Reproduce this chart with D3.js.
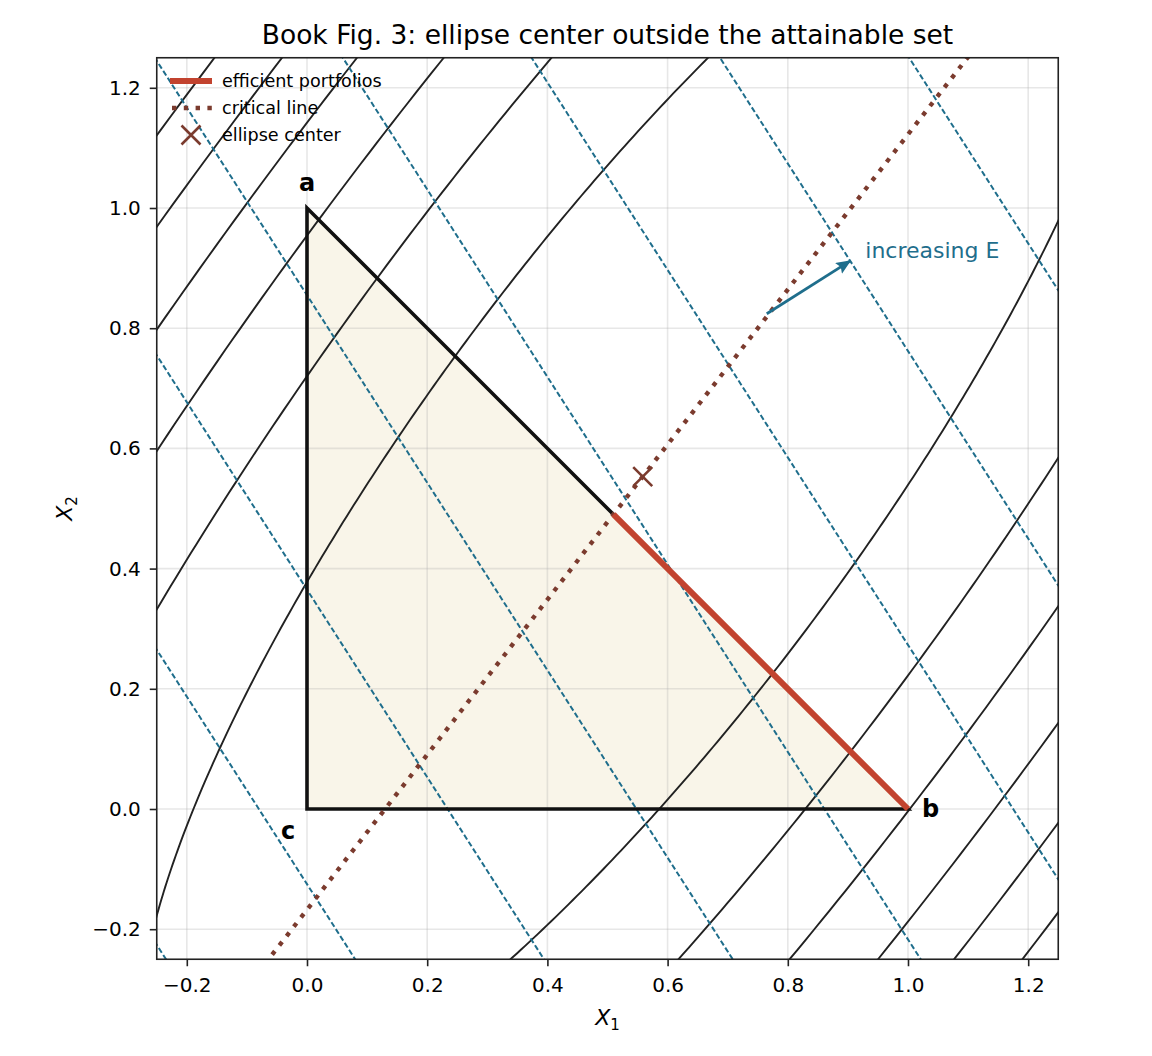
<!DOCTYPE html>
<html>
<head>
<meta charset="utf-8">
<title>Book Fig. 3</title>
<style>
	body {
		margin: 0;
		background: #fff;
	}
	svg {
		display: block;
		font-family: "DejaVu Sans", sans-serif;
	}
	.axis text {
		font-family: "DejaVu Sans", sans-serif;
		font-size: 20px;
		fill: #000;
	}
	.axis path, .axis line {
		stroke: #222;
		stroke-width: 1.6px;
	}
</style>
</head>
<body>
<div id="chart"></div>
<script src="https://cdn.jsdelivr.net/npm/d3@7"></script>
<script>

// corners of the attainable set in (X1, X2)
var vertices = [
	{ name: "a", x: 0, y: 1 },
	{ name: "b", x: 1, y: 0 },
	{ name: "c", x: 0, y: 0 }
];
var ellipseCenter = [0.5586, 0.553];

// iso-variance ellipses: q11*u1^2 + 2*q12*u1*u2 + q22*u2^2 = level, u = X - center
var quadForm = [[4.93, -3.21], [-3.21, 2.94]];
var varianceLevels = [1.0, 2.22, 3.45, 4.67, 5.89, 7.12];

// iso-mean lines: X2 = level - meanSlope * X1
var meanSlope = 1.56;
var meanLevels = [-0.616, -0.125, 0.365, 0.855, 1.343, 1.833, 2.322, 2.813];

// critical line through the ellipse center
var criticalSlope = 1.29;

var arrowFrom = [0.765, 0.824];
var arrowTo = [0.904, 0.912];

var tickValues = [-0.2, 0.0, 0.2, 0.4, 0.6, 0.8, 1.0, 1.2];

var legendItems = ["efficient portfolios", "critical line", "ellipse center"];

var teal = "#1f6e8c";
var brown = "#7b3b2e";
var red = "#c2432f";

var width = 1152;
var height = 1056;

var x = d3.scaleLinear().domain([-0.25, 1.25]).range([156.75, 1058.25]);
var y = d3.scaleLinear().domain([-0.25, 1.25]).range([959.25, 57.75]);

var svg = d3.select("#chart").append("svg")
	.attr("width", width)
	.attr("height", height);

svg.append("rect")
	.attr("width", width)
	.attr("height", height)
	.attr("fill", "#fff");

svg.append("defs").append("clipPath")
	.attr("id", "plot-clip")
	.append("rect")
		.attr("x", x(-0.25))
		.attr("y", y(1.25))
		.attr("width", x(1.25) - x(-0.25))
		.attr("height", y(-0.25) - y(1.25));

svg.select("defs").append("marker")
	.attr("id", "arrow-head")
	.attr("viewBox", "0 0 14 12")
	.attr("refX", 13)
	.attr("refY", 6)
	.attr("markerUnits", "userSpaceOnUse")
	.attr("markerWidth", 15)
	.attr("markerHeight", 13)
	.attr("orient", "auto")
	.append("path")
		.attr("d", "M0,0 L14,6 L0,12 L2.5,6 Z")
		.attr("fill", teal);

var plot = svg.append("g").attr("clip-path", "url(#plot-clip)");

var line = d3.line()
	.x(function(d) { return x(d[0]); })
	.y(function(d) { return y(d[1]); });

// attainable set fill
plot.append("path")
	.attr("d", line([[0, 0], [0, 1], [1, 0]]) + "Z")
	.attr("fill", "#f9f5e9");

// grid
plot.append("g")
	.selectAll("line")
	.data(tickValues)
	.join("line")
		.attr("x1", function(d) { return x(d); })
		.attr("x2", function(d) { return x(d); })
		.attr("y1", y(-0.25))
		.attr("y2", y(1.25))
		.attr("stroke", "#b0b0b0")
		.attr("stroke-opacity", 0.3)
		.attr("stroke-width", 1.6);
plot.append("g")
	.selectAll("line")
	.data(tickValues)
	.join("line")
		.attr("y1", function(d) { return y(d); })
		.attr("y2", function(d) { return y(d); })
		.attr("x1", x(-0.25))
		.attr("x2", x(1.25))
		.attr("stroke", "#b0b0b0")
		.attr("stroke-opacity", 0.3)
		.attr("stroke-width", 1.6);

// points of one iso-variance ellipse (Cholesky of the quadratic form)
function ellipsePoints(level) {
	var r11 = Math.sqrt(quadForm[0][0]);
	var r12 = quadForm[0][1] / r11;
	var r22 = Math.sqrt(quadForm[1][1] - r12 * r12);
	var s = Math.sqrt(level);
	return d3.range(0, 721).map(function(i) {
		var t = i / 720 * 2 * Math.PI;
		var u2 = s * Math.sin(t) / r22;
		var u1 = (s * Math.cos(t) - r12 * u2) / r11;
		return [ellipseCenter[0] + u1, ellipseCenter[1] + u2];
	});
}

plot.append("g")
	.selectAll("path")
	.data(varianceLevels)
	.join("path")
		.attr("d", function(d) { return line(ellipsePoints(d)); })
		.attr("fill", "none")
		.attr("stroke", "#222")
		.attr("stroke-width", 1.9);

// iso-mean lines
plot.append("g")
	.selectAll("path")
	.data(meanLevels)
	.join("path")
		.attr("d", function(d) { return line([[-0.6, d + 0.6 * meanSlope], [1.6, d - 1.6 * meanSlope]]); })
		.attr("fill", "none")
		.attr("stroke", teal)
		.attr("stroke-width", 2)
		.attr("stroke-dasharray", "5.5 2.7");

// triangle edges
plot.append("path")
	.attr("d", line([[0, 1], [0, 0], [1, 0]]) + "Z")
	.attr("fill", "none")
	.attr("stroke", "#111")
	.attr("stroke-width", 3.6)
	.attr("stroke-linejoin", "miter");

// critical line
function criticalY(xv) {
	return ellipseCenter[1] + criticalSlope * (xv - ellipseCenter[0]);
}
plot.append("path")
	.attr("d", line([[-0.058, criticalY(-0.058)], [1.3, criticalY(1.3)]]))
	.attr("fill", "none")
	.attr("stroke", brown)
	.attr("stroke-width", 4.4)
	.attr("stroke-dasharray", "4.4 7.4");

// efficient segment: critical line meets a-b, then along a-b to b
var effX = (1 - ellipseCenter[1] + criticalSlope * ellipseCenter[0]) / (1 + criticalSlope);
plot.append("path")
	.attr("d", line([[effX, 1 - effX], [1, 0]]))
	.attr("fill", "none")
	.attr("stroke", red)
	.attr("stroke-width", 6);

// ellipse center marker
function xMarker(g, cx, cy, r) {
	g.append("path")
		.attr("d", "M" + (cx - r) + "," + (cy - r) + "L" + (cx + r) + "," + (cy + r) +
			"M" + (cx - r) + "," + (cy + r) + "L" + (cx + r) + "," + (cy - r))
		.attr("stroke", brown)
		.attr("stroke-width", 2.6)
		.attr("fill", "none");
}
xMarker(plot, x(ellipseCenter[0]), y(ellipseCenter[1]), 9.5);

// increasing E arrow
plot.append("line")
	.attr("x1", x(arrowFrom[0]))
	.attr("y1", y(arrowFrom[1]))
	.attr("x2", x(arrowTo[0]))
	.attr("y2", y(arrowTo[1]))
	.attr("stroke", teal)
	.attr("stroke-width", 2.8)
	.attr("marker-end", "url(#arrow-head)");

svg.append("text")
	.attr("x", x(arrowTo[0]) + 15)
	.attr("y", y(arrowTo[1]) - 3)
	.attr("font-size", "22px")
	.attr("fill", teal)
	.text("increasing E");

// vertex labels
var labelOffsets = { a: [0, -17, "middle"], b: [14, 8, "start"], c: [-19, 30, "middle"] };
svg.append("g")
	.attr("font-size", "24px")
	.attr("font-weight", "bold")
	.selectAll("text")
	.data(vertices)
	.join("text")
		.attr("x", function(d) { return x(d.x) + labelOffsets[d.name][0]; })
		.attr("y", function(d) { return y(d.y) + labelOffsets[d.name][1]; })
		.attr("text-anchor", function(d) { return labelOffsets[d.name][2]; })
		.text(function(d) { return d.name; });

// axes
var fmt = d3.format(".1f");
svg.append("g")
	.attr("class", "axis")
	.attr("transform", "translate(0," + y(-0.25) + ")")
	.call(d3.axisBottom(x).tickValues(tickValues).tickFormat(fmt).tickSize(7).tickSizeOuter(0).tickPadding(12))
	.call(function(g) { g.select(".domain").remove(); });
svg.append("g")
	.attr("class", "axis")
	.attr("transform", "translate(" + x(-0.25) + ",0)")
	.call(d3.axisLeft(y).tickValues(tickValues).tickFormat(fmt).tickSize(7).tickSizeOuter(0).tickPadding(9))
	.call(function(g) { g.select(".domain").remove(); });

svg.append("rect")
	.attr("x", x(-0.25))
	.attr("y", y(1.25))
	.attr("width", x(1.25) - x(-0.25))
	.attr("height", y(-0.25) - y(1.25))
	.attr("fill", "none")
	.attr("stroke", "#222")
	.attr("stroke-width", 1.6);

// axis labels
var xl = svg.append("text")
	.attr("x", (x(-0.25) + x(1.25)) / 2)
	.attr("y", 1025)
	.attr("text-anchor", "middle")
	.attr("font-size", "22px");
xl.append("tspan").attr("font-style", "italic").text("X");
xl.append("tspan").attr("font-size", "15px").attr("dy", 5).text("1");

var yl = svg.append("text")
	.attr("transform", "translate(72," + ((y(-0.25) + y(1.25)) / 2) + ") rotate(-90)")
	.attr("text-anchor", "middle")
	.attr("font-size", "22px");
yl.append("tspan").attr("font-style", "italic").text("X");
yl.append("tspan").attr("font-size", "15px").attr("dy", 5).text("2");

// title
svg.append("text")
	.attr("x", (x(-0.25) + x(1.25)) / 2)
	.attr("y", 44)
	.attr("text-anchor", "middle")
	.attr("font-size", "26.5px")
	.text("Book Fig. 3: ellipse center outside the attainable set");

// legend
var legend = svg.append("g")
	.attr("font-size", "17.6px");
var rowY = [81, 108, 135];
legend.append("line")
	.attr("x1", 170).attr("x2", 212)
	.attr("y1", rowY[0]).attr("y2", rowY[0])
	.attr("stroke", red)
	.attr("stroke-width", 6);
legend.append("line")
	.attr("x1", 172).attr("x2", 212)
	.attr("y1", rowY[1]).attr("y2", rowY[1])
	.attr("stroke", brown)
	.attr("stroke-width", 4.4)
	.attr("stroke-dasharray", "4.4 7.4");
xMarker(legend, 191, rowY[2], 9.5);
legend.selectAll("text")
	.data(legendItems)
	.join("text")
		.attr("x", 222)
		.attr("y", function(d, i) { return rowY[i]; })
		.attr("dy", "0.35em")
		.text(function(d) { return d; });

</script>
</body>
</html>
